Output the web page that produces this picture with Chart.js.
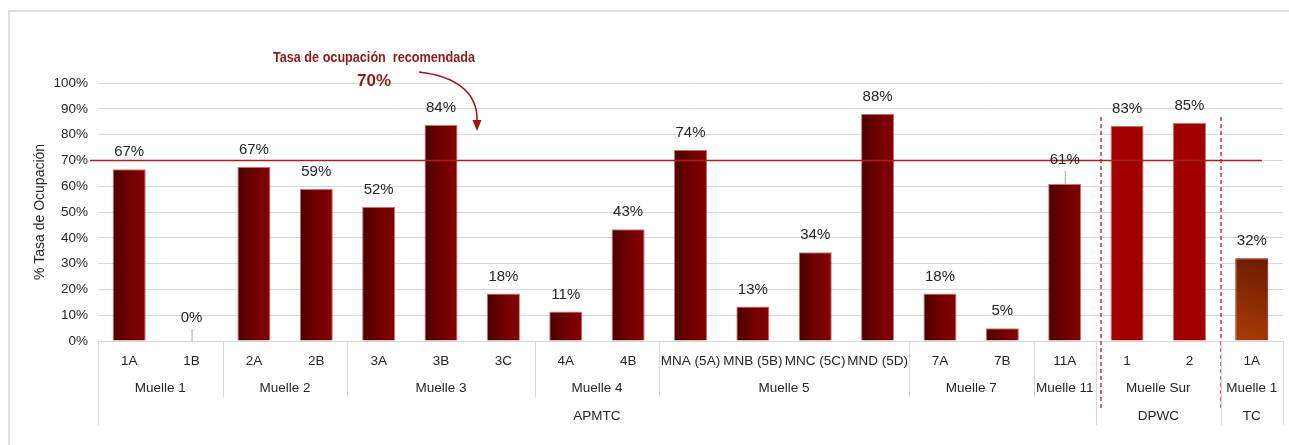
<!DOCTYPE html>
<html>
<head>
<meta charset="utf-8">
<script src="https://cdn.jsdelivr.net/npm/chart.js@4.4.0/dist/chart.umd.min.js"></script>
<style>
  html, body { margin: 0; padding: 0; background: #fff; }
  canvas { display: block; }
</style>
</head>
<body>
<canvas id="occupancyChart" width="1289" height="445"></canvas>
<script>
// ===== Data =====
const berths = ['1A', '1B', '2A', '2B', '3A', '3B', '3C', '4A', '4B',
  'MNA (5A)', 'MNB (5B)', 'MNC (5C)', 'MND (5D)', '7A', '7B', '11A', '1', '2', '1A'];
const occupancy = [66.6, 0, 67.4, 58.9, 51.9, 83.7, 18.4, 11.4, 43.3,
  74.1, 13.4, 34.4, 88.1, 18.4, 4.9, 60.9, 83.4, 84.6, 32.1];
const muelleLabels = ['Muelle 1', 'Muelle 2', 'Muelle 3', 'Muelle 4', 'Muelle 5',
  'Muelle 7', 'Muelle 11', 'Muelle Sur', 'Muelle 1'];
const muelleSizes = [2, 2, 3, 2, 4, 2, 1, 2, 1];
const operatorLabels = ['APMTC', 'DPWC', 'TC'];
const operatorSizes = [16, 2, 1];
const yTickValues = [0, 10, 20, 30, 40, 50, 60, 70, 80, 90, 100];
const recommendedRate = 70;

const FONT = "'Liberation Sans', Arial, sans-serif";
const BAR_PCT = 0.53;
const TEXT = '#262626';
const GRID = '#d9d9d9';

function operatorOf(i) {
  let acc = 0;
  for (let k = 0; k < operatorSizes.length; k++) {
    acc += operatorSizes[k];
    if (i < acc) return operatorLabels[k];
  }
  return operatorLabels[operatorLabels.length - 1];
}

function barRect(chart, i) {
  const xs = chart.scales.x, ys = chart.scales.y;
  const cx = xs.getPixelForValue(i);
  const w = (xs.width / berths.length) * BAR_PCT;
  return { left: cx - w / 2, right: cx + w / 2,
    top: ys.getPixelForValue(occupancy[i]), bottom: ys.getPixelForValue(0) };
}

function barFill(context) {
  const chart = context.chart;
  const op = operatorOf(context.dataIndex);
  if (op === 'DPWC') return '#a00000';
  if (!chart.chartArea) return '#720000';
  const r = barRect(chart, context.dataIndex);
  const c = chart.ctx;
  if (op === 'TC') {
    const g = c.createLinearGradient(r.left, r.bottom, r.right, r.top);
    g.addColorStop(0, '#ab3c06');
    g.addColorStop(1, '#6a1a00');
    return g;
  }
  const g = c.createLinearGradient(r.left, 0, r.right, 0);
  g.addColorStop(0, '#4a0000');
  g.addColorStop(0.5, '#700000');
  g.addColorStop(1, '#860000');
  return g;
}

function barBorder(context) {
  return operatorOf(context.dataIndex) === 'TC' ? '#8b0000' : 'rgba(190, 80, 80, 0.8)';
}

// ===== Extra drawing: frame, reference line, labels, grouped axis =====
const decorPlugin = {
  id: 'decor',
  beforeDraw(chart) {
    const c = chart.ctx;
    c.save();
    c.strokeStyle = '#e0e0e0';
    c.lineWidth = 2;
    c.beginPath();
    c.moveTo(9, chart.height);
    c.lineTo(9, 11);
    c.lineTo(chart.width, 11);
    c.stroke();
    c.restore();
  },
  afterDatasetsDraw(chart) {
    const c = chart.ctx;
    const xs = chart.scales.x, ys = chart.scales.y;
    const area = chart.chartArea;
    const step = xs.width / berths.length;
    const edge = i => xs.getPixelForValue(i) - step / 2;
    c.save();

    // recommended rate line
    const yRef = Math.round(ys.getPixelForValue(recommendedRate)) + 0.5;
    c.strokeStyle = '#a52222';
    c.lineWidth = 1.5;
    c.beginPath();
    c.moveTo(area.left - 8, yRef);
    c.lineTo(area.right - 21, yRef);
    c.stroke();

    // dashed dividers between operators
    c.strokeStyle = '#b01c1c';
    c.lineWidth = 1.3;
    c.setLineDash([4, 3]);
    [[16, 5], [18, 0]].forEach(([at, shift]) => {
      const x = Math.round(edge(at) + shift);
      c.beginPath();
      c.moveTo(x, 117);
      c.lineTo(x, xs.top + 67);
      c.stroke();
    });
    c.setLineDash([]);

    // value labels
    const meta = chart.getDatasetMeta(0);
    c.font = '15px ' + FONT;
    c.fillStyle = TEXT;
    c.textAlign = 'center';
    c.textBaseline = 'middle';
    const leaders = { 1: 23, 15: 24 };
    meta.data.forEach((bar, i) => {
      const label = Math.round(occupancy[i]) + '%';
      if (leaders[i] !== undefined) {
        const ly = bar.y - leaders[i];
        c.fillText(label, bar.x, ly);
        c.strokeStyle = '#a6a6a6';
        c.lineWidth = 1;
        c.beginPath();
        c.moveTo(bar.x + 0.5, ly + 11);
        c.lineTo(bar.x + 0.5, bar.y);
        c.stroke();
      } else {
        c.fillText(label, bar.x, bar.y - 17);
      }
    });

    // annotation text + arrow
    c.fillStyle = '#8c1d1d';
    c.font = 'bold 15px ' + FONT;
    const note = 'Tasa de ocupación  recomendada';
    const w = c.measureText(note).width;
    c.save();
    c.translate(374, 58);
    c.scale(202 / w, 1);
    c.fillText(note, 0, 0);
    c.restore();
    c.font = 'bold 17px ' + FONT;
    c.fillText(recommendedRate + '%', 374, 81);

    c.strokeStyle = '#a01515';
    c.fillStyle = '#a01515';
    c.lineWidth = 1.5;
    c.beginPath();
    c.moveTo(419, 72);
    c.bezierCurveTo(455, 76, 478, 92, 477, 121);
    c.stroke();
    c.beginPath();
    c.moveTo(477, 131);
    c.lineTo(472.5, 120);
    c.lineTo(481.5, 120);
    c.closePath();
    c.fill();

    // grouped category axis
    c.fillStyle = TEXT;
    c.font = '13.5px ' + FONT;
    berths.forEach((b, i) => c.fillText(b, xs.getPixelForValue(i), xs.top + 20));

    c.strokeStyle = GRID;
    c.lineWidth = 1;
    let start = 0;
    muelleLabels.forEach((m, k) => {
      const end = start + muelleSizes[k];
      c.fillText(m, (edge(start) + edge(end)) / 2, xs.top + 47);
      const x = Math.round(edge(start)) + 0.5;
      c.beginPath();
      c.moveTo(x, xs.top);
      c.lineTo(x, xs.top + 56);
      c.stroke();
      start = end;
    });
    start = 0;
    operatorLabels.forEach((o, k) => {
      const end = start + operatorSizes[k];
      c.fillText(o, (edge(start) + edge(end)) / 2, xs.top + 75);
      [start, end].forEach(e => {
        const x = Math.round(edge(e)) + 0.5;
        c.beginPath();
        c.moveTo(x, xs.top);
        c.lineTo(x, xs.top + 84);
        c.stroke();
      });
      start = end;
    });
    c.restore();
  }
};

// ===== Chart =====
const ctx = document.getElementById('occupancyChart').getContext('2d');
new Chart(ctx, {
  type: 'bar',
  data: {
    labels: berths,
    datasets: [{
      label: '% Tasa de Ocupación',
      data: occupancy,
      backgroundColor: barFill,
      borderColor: barBorder,
      borderWidth: 1,
      borderSkipped: 'bottom',
      categoryPercentage: 1,
      barPercentage: BAR_PCT
    }]
  },
  options: {
    responsive: false,
    animation: false,
    devicePixelRatio: 1,
    layout: { padding: { top: 83, right: 6, left: 0, bottom: 0 } },
    plugins: {
      legend: { display: false },
      tooltip: { enabled: false }
    },
    scales: {
      x: {
        grid: { display: false },
        border: { display: false },
        ticks: { display: false },
        afterFit: scale => { scale.height = 104; }
      },
      y: {
        min: 0,
        max: 100,
        afterBuildTicks: scale => { scale.ticks = yTickValues.map(v => ({ value: v })); },
        afterFit: scale => { scale.width = 98; },
        grid: { color: GRID, lineWidth: 1, drawTicks: false },
        border: { display: false },
        ticks: {
          padding: 10,
          color: TEXT,
          font: { family: FONT, size: 13.5 },
          callback: v => v + '%'
        },
        title: {
          display: true,
          text: '% Tasa de Ocupación',
          color: TEXT,
          font: { family: FONT, size: 14 },
          padding: { top: 32, bottom: 0 }
        }
      }
    }
  },
  plugins: [decorPlugin]
});
</script>
</body>
</html>
